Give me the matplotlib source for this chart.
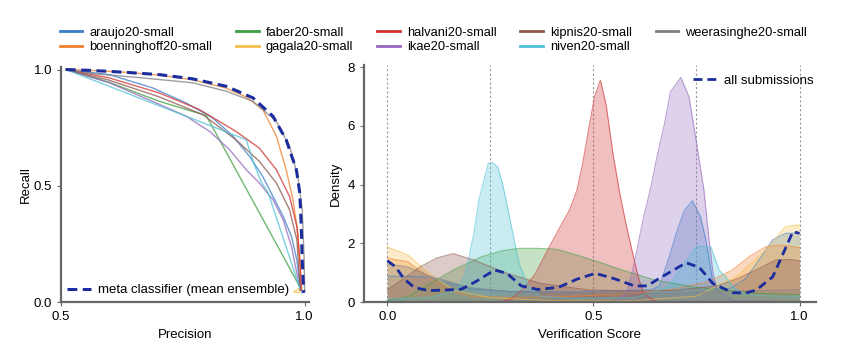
import numpy as np
import matplotlib.pyplot as plt

plt.rcParams['font.family'] = ['Liberation Sans', 'DejaVu Sans']
plt.rcParams['font.size'] = 9.5

# system names and colours
names = ['araujo20-small', 'boenninghoff20-small', 'faber20-small', 'gagala20-small',
         'halvani20-small', 'ikae20-small', 'kipnis20-small', 'niven20-small',
         'weerasinghe20-small']
colors = ['#3a7dc9', '#f07f2e', '#3f9f3f', '#f4c04a', '#d0302f',
          '#9467bd', '#8c564b', '#4fc1d4', '#7f7f7f']
meta_color = '#1a2c9e'

# ---- precision / recall curves
pr_prec = {
    'araujo20-small': [0.51, 0.599, 0.688, 0.757, 0.811, 0.853, 0.887, 0.914, 0.935, 0.956, 0.973, 0.984, 0.991, 0.995],
    'boenninghoff20-small': [0.51, 0.564, 0.633, 0.702, 0.770, 0.839, 0.880, 0.914, 0.942, 0.962, 0.976, 0.986, 0.991, 0.994],
    'faber20-small': [0.51, 0.599, 0.702, 0.798, 0.990],
    'gagala20-small': [0.978, 0.990, 0.990, 0.978],
    'halvani20-small': [0.51, 0.599, 0.702, 0.784, 0.859, 0.907, 0.942, 0.969, 0.984, 0.990, 0.993],
    'ikae20-small': [0.51, 0.599, 0.688, 0.757, 0.805, 0.846, 0.880, 0.907, 0.935, 0.956, 0.973, 0.984, 0.991],
    'kipnis20-small': [0.51, 0.599, 0.702, 0.791, 0.859, 0.907, 0.942, 0.969, 0.984, 0.991],
    'niven20-small': [0.51, 0.784, 0.880, 0.895, 0.910, 0.925, 0.990],
    'weerasinghe20-small': [0.51, 0.564, 0.667, 0.770, 0.839, 0.894, 0.942, 0.969, 0.986, 0.995, 0.999, 1.0],
}
pr_rec = {
    'araujo20-small': [1.0, 0.978, 0.921, 0.856, 0.792, 0.713, 0.626, 0.540, 0.454, 0.368, 0.282, 0.181, 0.066, 0.04],
    'boenninghoff20-small': [1.0, 0.996, 0.988, 0.976, 0.956, 0.920, 0.882, 0.828, 0.713, 0.569, 0.440, 0.296, 0.152, 0.052],
    'faber20-small': [1.0, 0.945, 0.863, 0.802, 0.066],
    'gagala20-small': [0.045, 0.060, 0.040, 0.045],
    'halvani20-small': [1.0, 0.964, 0.899, 0.828, 0.734, 0.662, 0.569, 0.454, 0.325, 0.181, 0.052],
    'ikae20-small': [1.0, 0.943, 0.863, 0.799, 0.734, 0.655, 0.569, 0.512, 0.440, 0.353, 0.238, 0.124, 0.052],
    'kipnis20-small': [1.0, 0.954, 0.882, 0.806, 0.698, 0.605, 0.512, 0.397, 0.267, 0.052],
    'niven20-small': [1.0, 0.777, 0.698, 0.600, 0.520, 0.470, 0.060],
    'weerasinghe20-small': [1.0, 0.983, 0.964, 0.943, 0.907, 0.863, 0.777, 0.670, 0.540, 0.397, 0.181, 0.05],
}
meta_prec = [0.51, 0.564, 0.633, 0.702, 0.770, 0.839, 0.894, 0.935, 0.962, 0.983, 0.990, 0.993, 0.995, 0.998]
meta_rec = [1.0, 0.996, 0.988, 0.978, 0.960, 0.928, 0.878, 0.799, 0.698, 0.569, 0.469, 0.325, 0.181, 0.04]

# ---- score densities
dens_x = {
    'araujo20-small': [0, 0.05, 0.1, 0.15, 0.2, 0.3, 0.45, 0.6, 0.64, 0.66, 0.684, 0.70, 0.72, 0.74, 0.76, 0.773, 0.789, 0.80, 0.83, 0.87, 0.91, 0.934, 0.966, 1.0],
    'boenninghoff20-small': [0, 0.05, 0.1, 0.15, 0.2, 0.3, 0.45, 0.6, 0.7, 0.78, 0.837, 0.877, 0.918, 0.95, 0.98, 1.0],
    'faber20-small': [0, 0.05, 0.1, 0.16, 0.23, 0.28, 0.32, 0.36, 0.41, 0.46, 0.51, 0.57, 0.65, 0.74, 0.82, 0.9, 1.0],
    'gagala20-small': [0, 0.05, 0.1, 0.16, 0.25, 0.4, 0.6, 0.75, 0.85, 0.92, 0.966, 0.99, 1.0],
    'halvani20-small': [0, 0.27, 0.30, 0.33, 0.36, 0.39, 0.417, 0.442, 0.46, 0.474, 0.49, 0.503, 0.517, 0.531, 0.548, 0.564, 0.58, 0.597, 0.61, 0.622, 0.64, 0.66, 1.0],
    'ikae20-small': [0, 0.55, 0.581, 0.597, 0.622, 0.638, 0.655, 0.671, 0.687, 0.712, 0.732, 0.749, 0.768, 0.78, 0.79, 0.80, 0.84, 1.0],
    'kipnis20-small': [0, 0.03, 0.08, 0.12, 0.16, 0.21, 0.29, 0.37, 0.49, 0.6, 0.7, 0.8, 0.85, 0.894, 0.942, 0.98, 1.0],
    'niven20-small': [0, 0.1, 0.17, 0.19, 0.21, 0.222, 0.245, 0.255, 0.268, 0.28, 0.295, 0.305, 0.32, 0.343, 0.37, 0.45, 0.6, 0.68, 0.72, 0.75, 0.785, 0.805, 0.821, 0.84, 0.87, 0.95, 1.0],
    'weerasinghe20-small': [0, 0.05, 0.1, 0.2, 0.3, 0.5, 0.7, 0.85, 1.0],
}
dens_y = {
    'araujo20-small': [0.88, 0.88, 0.85, 0.65, 0.45, 0.36, 0.35, 0.4, 0.42, 0.55, 1.54, 2.3, 3.1, 3.45, 2.9, 2.11, 0.75, 0.45, 0.45, 0.8, 1.6, 2.11, 2.34, 2.35],
    'boenninghoff20-small': [1.49, 1.37, 0.86, 0.41, 0.2, 0.15, 0.2, 0.3, 0.45, 0.7, 1.09, 1.54, 1.88, 1.94, 1.9, 1.85],
    'faber20-small': [0.05, 0.18, 0.6, 1.09, 1.55, 1.75, 1.83, 1.83, 1.8, 1.6, 1.38, 1.09, 0.75, 0.52, 0.4, 0.3, 0.25],
    'gagala20-small': [1.88, 1.6, 1.0, 0.41, 0.15, 0.05, 0.05, 0.2, 0.9, 1.8, 2.57, 2.62, 2.62],
    'halvani20-small': [0, 0, 0.1, 0.45, 0.98, 1.8, 2.5, 3.13, 3.8, 4.72, 6.0, 7.0, 7.55, 6.7, 5.0, 3.7, 2.6, 1.55, 0.8, 0.3, 0.1, 0, 0],
    'ikae20-small': [0.02, 0.02, 0.3, 1.2, 2.91, 3.82, 5.0, 5.97, 7.16, 7.65, 6.98, 5.52, 3.82, 2.2, 1.0, 0.4, 0.05, 0.02],
    'kipnis20-small': [0.41, 0.7, 1.2, 1.5, 1.65, 1.43, 0.98, 0.64, 0.41, 0.38, 0.4, 0.55, 0.8, 1.09, 1.43, 1.45, 1.4],
    'niven20-small': [0.1, 0.15, 0.4, 0.98, 2.34, 3.47, 4.72, 4.75, 4.6, 4.0, 3.0, 2.3, 1.3, 0.52, 0.2, 0.12, 0.15, 0.5, 1.3, 1.9, 1.88, 1.09, 0.86, 0.5, 0.25, 0.2, 0.2],
    'weerasinghe20-small': [1.3, 1.2, 0.9, 0.5, 0.35, 0.3, 0.3, 0.38, 0.42],
}
all_x = [0, 0.02, 0.04, 0.065, 0.1, 0.14, 0.18, 0.215, 0.26, 0.29, 0.325, 0.365, 0.415, 0.46, 0.505,
         0.55, 0.6, 0.63, 0.66, 0.725, 0.757, 0.79, 0.838, 0.87, 0.895, 0.935, 0.964, 0.984, 1.0]
all_y = [1.41, 1.2, 0.8, 0.5, 0.39, 0.41, 0.44, 0.7, 1.09, 0.98, 0.55, 0.43, 0.5, 0.78, 0.98,
         0.8, 0.55, 0.55, 0.81, 1.34, 1.18, 0.63, 0.32, 0.31, 0.41, 0.86, 1.77, 2.4, 2.34]

fig = plt.figure(figsize=(8.5, 3.55), dpi=100)
ax1 = fig.add_axes([0.0718, 0.149, 0.2918, 0.663])
ax2 = fig.add_axes([0.428, 0.149, 0.532, 0.668])

spine_col = '#666666'
for ax in (ax1, ax2):
    for s in ['top', 'right']:
        ax.spines[s].set_visible(False)
    for s in ['left', 'bottom']:
        ax.spines[s].set_color(spine_col)
        ax.spines[s].set_linewidth(1.6)
    ax.tick_params(colors=spine_col, labelcolor='black', length=3, width=0.8, labelsize=9.5)

# left: PR curves
for n, c in zip(names, colors):
    ax1.plot(pr_prec[n], pr_rec[n], color=c, lw=1.0, alpha=0.75, label=n)
ax1.plot(meta_prec, meta_rec, color=meta_color, lw=2.2, ls='--', dashes=(3.2, 1.8),
         label='meta classifier (mean ensemble)')
ax1.set_xlim(0.5, 1.009)
ax1.set_ylim(0, 1.012)
ax1.set_xticks([0.5, 1.0])
ax1.set_yticks([0.0, 0.5, 1.0])
ax1.set_xlabel('Precision', fontsize=9.5)
ax1.set_ylabel('Recall', fontsize=9.5, labelpad=1)
h, l = ax1.get_legend_handles_labels()
ax1.legend(h[-1:], l[-1:], loc='lower left', frameon=False, fontsize=9.5,
           handlelength=1.8, handletextpad=0.55, borderaxespad=0.05, bbox_to_anchor=(0.0, 0.0))

# right: score densities
for v in [0, 0.25, 0.5, 0.75, 1.0]:
    ax2.axvline(v, color='#999999', lw=0.8, ls=(0, (2, 2)), zorder=0)
for n, c in zip(names, colors):
    ax2.fill_between(dens_x[n], dens_y[n], color=c, alpha=0.3, lw=0)
    ax2.plot(dens_x[n], dens_y[n], color=c, alpha=0.6, lw=0.8)
ax2.plot(all_x, all_y, color=meta_color, lw=2.0, ls='--', dashes=(3.2, 1.8), label='all submissions')
ax2.set_xlim(-0.057, 1.04)
ax2.set_ylim(0, 8.07)
ax2.set_xticks([0.0, 0.5, 1.0])
ax2.set_yticks([0, 2, 4, 6, 8])
ax2.set_xlabel('Verification Score', fontsize=9.5)
ax2.set_ylabel('Density', fontsize=9.5)
ax2.legend(loc='upper right', frameon=False, fontsize=9.5, handlelength=1.8,
           handletextpad=0.55, bbox_to_anchor=(1.012, 0.993), borderaxespad=0.2)

# shared legend on top
handles = [plt.Line2D([], [], color=c, lw=2.0) for c in colors]
fig.legend(handles, names, loc='upper left', bbox_to_anchor=(0.064, 0.94), ncol=5,
           frameon=False, fontsize=9.3, handlelength=1.75, handletextpad=0.55,
           columnspacing=1.85, labelspacing=0.2, borderaxespad=0)

fig.savefig('out.png', dpi=100)
